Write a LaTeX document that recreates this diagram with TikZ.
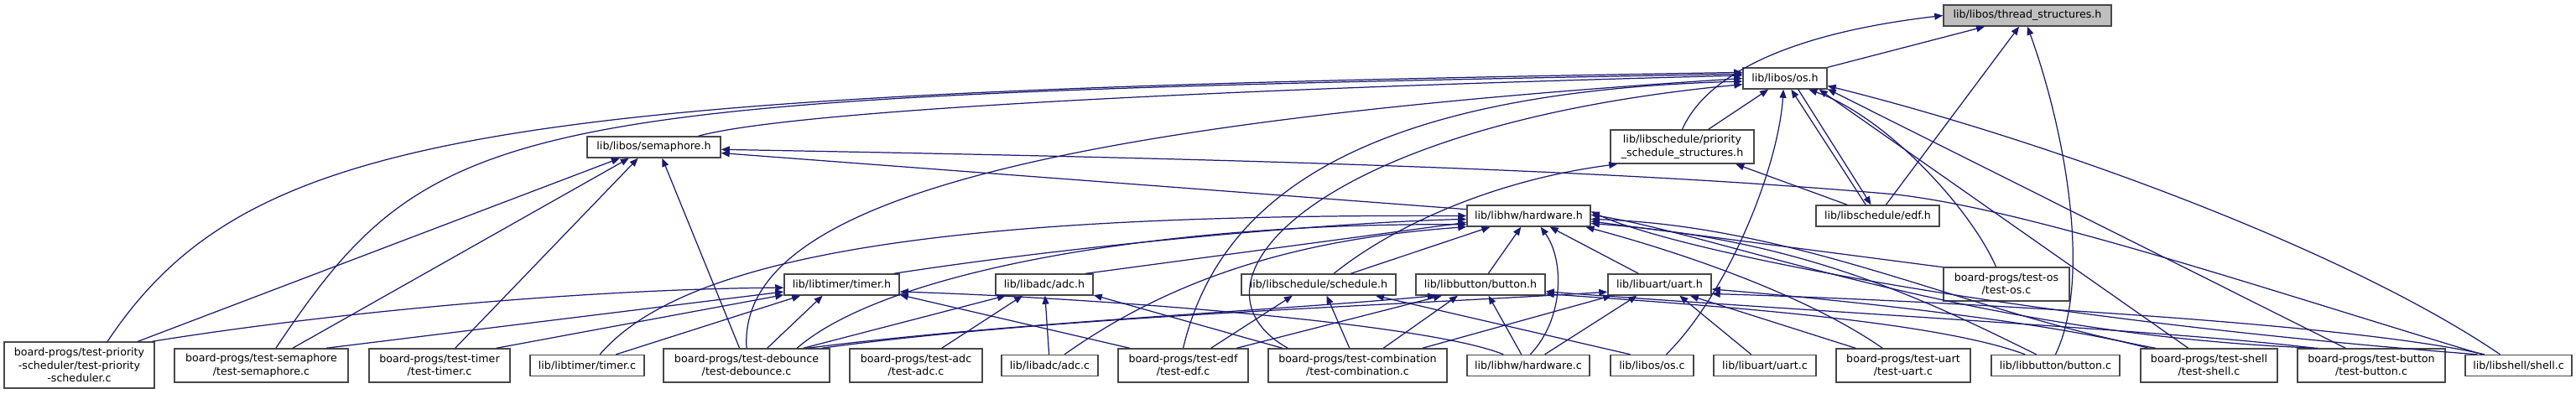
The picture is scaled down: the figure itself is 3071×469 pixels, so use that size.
\documentclass[tikz,border=0pt]{standalone}
\usepackage{fontspec}
\setmainfont{DejaVu Sans}
\usetikzlibrary{arrows.meta}
\definecolor{edgeblue}{RGB}{25,25,112}

\begin{document}
\begin{tikzpicture}[x=0.01cm,y=-0.01cm,
  srcbox/.style={draw=black!72,line width=0.4pt,fill=white,inner sep=0pt,align=center,
    font=\fontsize{3.6}{4.4}\selectfont,minimum height=0.25cm},
  twoline/.style={srcbox,minimum height=0.4cm},
  incl/.style={draw=edgeblue,line width=0.35pt,-{Triangle[length=1mm,width=0.8mm]}}]
\useasboundingbox (0,0) rectangle (3071,469);

\node[srcbox,fill=black!25,minimum width=2cm] (tsh) at (2417,18.5) {lib/libos/thread\_structures.h};
\node[srcbox,minimum width=1cm] (osh) at (2128,93.5) {lib/libos/os.h};
\node[srcbox,minimum width=1.59cm] (semh) at (779.5,175.5) {lib/libos/semaphore.h};
\node[twoline,minimum width=1.71cm] (prioh) at (2005.5,175) {lib/libschedule/priority\\\_schedule\_structures.h};
\node[srcbox,minimum width=1.47cm] (edfh) at (2238.5,257.5) {lib/libschedule/edf.h};
\node[srcbox,minimum width=1.47cm] (hwh) at (1822.5,257.5) {lib/libhw/hardware.h};
\node[srcbox,minimum width=1.37cm] (timerh) at (1003.5,339.5) {lib/libtimer/timer.h};
\node[srcbox,minimum width=1.16cm] (adch) at (1245,339.5) {lib/libadc/adc.h};
\node[srcbox,minimum width=1.84cm] (schedh) at (1572,339.5) {lib/libschedule/schedule.h};
\node[srcbox,minimum width=1.54cm] (btnh) at (1765,339.5) {lib/libbutton/button.h};
\node[srcbox,minimum width=1.23cm] (uarth) at (1978.5,339.5) {lib/libuart/uart.h};
\node[twoline,minimum width=1.5cm] (tos) at (2392,339) {board-progs/test-os\\/test-os.c};

\node[srcbox,minimum width=1.79cm,minimum height=0.55cm] (tprio) at (94.5,435.5) {board-progs/test-priority\\-scheduler/test-priority\\-scheduler.c};
\node[twoline,minimum width=2.07cm] (tsem) at (311.5,436) {board-progs/test-semaphore\\/test-semaphore.c};
\node[twoline,minimum width=1.68cm] (ttimer) at (524,436) {board-progs/test-timer\\/test-timer.c};
\node[srcbox,minimum width=1.36cm] (timerc) at (700,436) {lib/libtimer/timer.c};
\node[twoline,minimum width=1.98cm] (tdeb) at (890,436) {board-progs/test-debounce\\/test-debounce.c};
\node[twoline,minimum width=1.58cm] (tadc) at (1092,436) {board-progs/test-adc\\/test-adc.c};
\node[srcbox,minimum width=1.15cm] (adcc) at (1251.5,436) {lib/libadc/adc.c};
\node[twoline,minimum width=1.55cm] (tedf) at (1410.5,436) {board-progs/test-edf\\/test-edf.c};
\node[twoline,minimum width=2.13cm] (tcomb) at (1618.5,436) {board-progs/test-combination\\/test-combination.c};
\node[srcbox,minimum width=1.46cm] (hwc) at (1822,436) {lib/libhw/hardware.c};
\node[srcbox,minimum width=0.99cm] (osc) at (1969.5,436) {lib/libos/os.c};
\node[srcbox,minimum width=1.22cm] (uartc) at (2104,436) {lib/libuart/uart.c};
\node[twoline,minimum width=1.6cm] (tuart) at (2269,436) {board-progs/test-uart\\/test-uart.c};
\node[srcbox,minimum width=1.53cm] (btnc) at (2450.5,436) {lib/libbutton/button.c};
\node[twoline,minimum width=1.63cm] (tshell) at (2633.5,436) {board-progs/test-shell\\/test-shell.c};
\node[twoline,minimum width=1.76cm] (tbtn) at (2827,436) {board-progs/test-button\\/test-button.c};
\node[srcbox,minimum width=1.27cm] (shellc) at (3002.5,436) {lib/libshell/shell.c};

\draw[incl] (osh) -- (tsh);
\draw[incl] (prioh.north) .. controls (2025,110) and (2090,45) .. (tsh.west);
\draw[incl] (edfh) -- (tsh);
\draw[incl] (btnc.north) .. controls (2495,330) and (2460,150) .. (tsh.south);

\draw[incl] (semh.14) .. controls (950,130) and (1500,105) .. (osh.176);
\draw[incl] (tprio.40) .. controls (300,150) and (600,110) .. (osh.172);
\draw[incl] (tsem.50) .. controls (520,130) and (600,115) .. (osh.174);
\draw[incl] (tdeb.north) .. controls (880,250) and (1200,150) .. (osh.180);
\draw[incl] (tedf.north) .. controls (1450,250) and (1600,110) .. (osh.184);
\draw[incl] (tcomb.166) .. controls (1400,340) and (1560,150) .. (osh.188);
\draw[incl] (prioh) -- (osh);
\draw[incl] (osc.38) .. controls (2060,350) and (2120,200) .. (osh.262);
\draw[incl] (edfh.137) -- (osh.299);
\draw[incl] (tos.121) .. controls (2350,250) and (2250,140) .. (osh.335);
\draw[incl] (tshell.140) -- (osh.342);
\draw[incl] (tbtn.146) -- (osh.346);
\draw[incl] (shellc.149) .. controls (2800,300) and (2450,170) .. (osh.350);
\draw[incl] (osh.320) -- (edfh.121);

\draw[incl] (schedh.36) .. controls (1660,270) and (1780,215) .. (prioh.195);
\draw[incl] (edfh.160) -- (prioh.342);

\draw[incl] (tprio.22) -- (semh.198);
\draw[incl] (tsem.29) -- (semh.204);
\draw[incl] (ttimer.48) -- (semh.215);
\draw[incl] (tdeb.112) -- (semh.307);
\draw[incl] (hwh.174) -- (semh.355);
\draw[incl] (shellc.163) .. controls (2700,345) and (2420,250) .. (2260,232)
  .. controls (1900,200) and (1400,188) .. (semh.358);

\draw[incl] (tprio.18) .. controls (400,372) and (700,345) .. (timerh.183);
\draw[incl] (tsem.15) -- (timerh.187);
\draw[incl] (ttimer.17) -- (timerh.190);
\draw[incl] (timerc.21) -- (timerh.195);
\draw[incl] (tdeb.40) -- (timerh.210);
\draw[incl] (tedf.162) -- (timerh.350);
\draw[incl] (hwc.156) .. controls (1700,385) and (1300,355) .. (timerh.353);

\draw[incl] (timerh.12) .. controls (1300,290) and (1600,265) .. (hwh.183);
\draw[incl] (adch.15) -- (hwh.186);
\draw[incl] (timerc.41) .. controls (820,300) and (1150,255) .. (hwh.180);
\draw[incl] (tdeb.19) .. controls (1060,320) and (1400,265) .. (hwh.188);
\draw[incl] (adcc.37) .. controls (1400,330) and (1550,285) .. (hwh.190);
\draw[incl] (schedh.19) -- (hwh.196);
\draw[incl] (btnh) -- (hwh);
\draw[incl] (uarth) -- (hwh);
\draw[incl] (hwc.80) .. controls (1865,380) and (1865,310) .. (hwh.317);
\draw[incl] (tos.165) -- (hwh.355);
\draw[incl] (tuart.140) .. controls (2150,350) and (2000,300) .. (hwh.349);
\draw[incl] (btnc.150) .. controls (2300,360) and (2150,285) .. (hwh.353);
\draw[incl] (tshell.162) .. controls (2350,375) and (2150,270) .. (hwh.357);
\draw[incl] (tbtn.162) .. controls (2350,400) and (2050,280) .. (hwh.1);
\draw[incl] (shellc.165) .. controls (2400,380) and (2000,300) .. (hwh.4);

\draw[incl] (tadc.34) -- (adch.207);
\draw[incl] (adcc) -- (adch);
\draw[incl] (tdeb.17) -- (adch.196);
\draw[incl] (tcomb.167) -- (adch.348);

\draw[incl] (tedf.32) -- (schedh.203);
\draw[incl] (tcomb.115) -- (schedh.306);
\draw[incl] (osc.153) -- (schedh.349);

\draw[incl] (tdeb.16) .. controls (1200,385) and (1500,372) .. (btnh.194);
\draw[incl] (tedf.18) -- (btnh.196);
\draw[incl] (tcomb.34) -- (btnh.206);
\draw[incl] (hwc.122) -- (btnh.306);
\draw[incl] (btnc.160) .. controls (2300,380) and (2000,362) .. (btnh.352);
\draw[incl] (tbtn.163) .. controls (2600,395) and (2100,368) .. (btnh.354);

\draw[incl] (tdeb.13) .. controls (1250,378) and (1650,365) .. (uarth.188);
\draw[incl] (tcomb.15) -- (uarth.193);
\draw[incl] (hwc.34) -- (uarth.206);
\draw[incl] (uartc.141) -- (uarth.331);
\draw[incl] (tuart.160) -- (uarth.340);
\draw[incl] (tshell.164) .. controls (2450,385) and (2200,358) .. (uarth.355);
\draw[incl] (shellc.162) .. controls (2800,385) and (2300,358) .. (uarth.350);
\end{tikzpicture}
\end{document}
